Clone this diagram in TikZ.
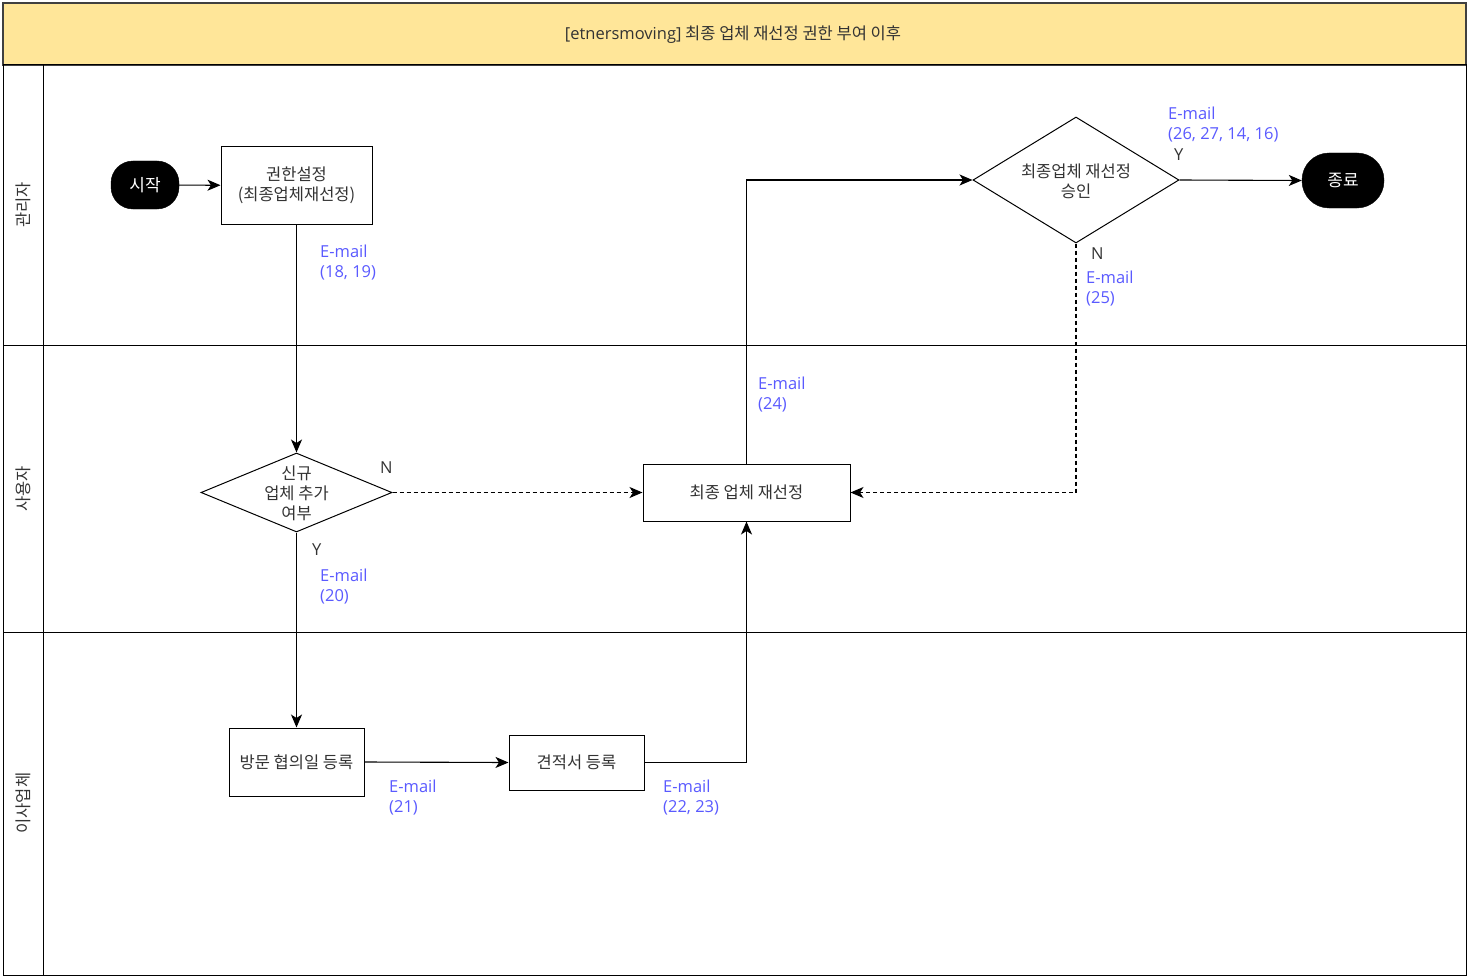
\documentclass[tikz,border=0pt]{standalone}
\usepackage{fontspec}
\setmainfont{Noto Sans CJK KR}
\newfontfamily\latinf{Open Sans}
\usetikzlibrary{shapes.geometric,arrows.meta}
\definecolor{titlefill}{RGB}{255,230,153}
\definecolor{mailblue}{RGB}{90,90,255}
\definecolor{txtgray}{RGB}{51,51,51}
\tikzset{
  every node/.style={font=\fontsize{16.5}{20}\selectfont, text=txtgray},
  procbox/.style={draw=black, line width=1pt, fill=white, inner sep=0pt, align=center},
  term/.style={draw=black, fill=black, rounded corners=22pt, inner sep=0pt, text=white, font=\fontsize{17}{20}\selectfont},
  dia/.style={draw=black, line width=1pt, fill=white, diamond, inner sep=0pt},
  lbl/.style={anchor=north west, align=left, inner sep=0pt, font=\latinf\fontsize{16.5}{20}\selectfont},
  mail/.style={lbl, text=mailblue},
  flow/.style={line width=1.1pt, -{Stealth[length=13pt,width=11pt,inset=3.5pt]}},
  dflow/.style={flow, dash pattern=on 4pt off 3pt},
  lane/.style={draw=black, line width=1pt}
}
\begin{document}
\begin{tikzpicture}[x=1pt,y=-1pt]
\useasboundingbox (0,0) rectangle (1470,979);
% frame and lanes
\fill[white] (0,0) rectangle (1470,979);
\filldraw[fill=titlefill, draw=black!75, line width=1.2pt] (3,3) rectangle (1466,65);
\node (title) at (733,35) {{\latinf [etnersmoving]} 최종 업체 재선정 권한 부여 이후};
\draw[lane] (3,65) rectangle (1466,975);
\draw[lane] (43,65) -- (43,975);
\draw[lane] (3,345) -- (1466,345);
\draw[lane] (3,632) -- (1466,632);
\node[rotate=90] (l1) at (23,205) {관리자};
\node[rotate=90] (l2) at (23,489) {사용자};
\node[rotate=90] (l3) at (23,803) {이사업체};
% nodes
\node[term, minimum width=68pt, minimum height=48pt] (start) at (145,185) {시작};
\node[procbox, minimum width=151pt, minimum height=77pt] (auth) at (296.5,185.5) {권한설정\\(최종업체재선정)};
\node[dia, minimum width=191pt, minimum height=79pt] (d1) at (296.5,492.5) {};
\node[align=center, inner sep=0pt] (d1t) at (296.5,493) {신규\\업체 추가\\여부};
\node[procbox, minimum width=207pt, minimum height=57pt] (resel) at (746.5,492.5) {최종 업체 재선정};
\node[procbox, minimum width=135pt, minimum height=68pt] (visit) at (296.5,762) {방문 협의일 등록};
\node[procbox, minimum width=135pt, minimum height=55pt] (quote) at (576.5,762.5) {견적서 등록};
\node[dia, minimum width=206pt, minimum height=126pt] (d2) at (1076,180) {};
\node[align=center, inner sep=0pt] (d2t) at (1076,181) {최종업체 재선정\\승인};
\node[term, minimum width=82pt, minimum height=55pt, rounded corners=27pt] (end) at (1343,180.5) {종료};
% connectors
\draw[flow] (start) -- (auth);
\draw[flow] (auth.south) -- (d1.north);
\draw[dflow] (d1.east) -- (resel.west);
\draw[flow] (d1.south) -- (visit.north);
\draw[flow] (visit.east) -- (quote.west);
\draw[flow] (quote.east) -| (resel.south);
\draw[flow] (resel.north) |- (d2.west);
\draw[flow] (d2.east) -- (end.west);
\draw[dflow] (d2.south) |- (resel.east);
% labels
\node[mail] (m1) at (320,245) {E-mail\\(18, 19)};
\node[lbl] (n1) at (380,462) {N};
\node[lbl] (y1) at (312,544) {Y};
\node[mail] (m2) at (320,569) {E-mail\\(20)};
\node[mail] (m3) at (389,780) {E-mail\\(21)};
\node[mail] (m4) at (663,780) {E-mail\\(22, 23)};
\node[mail] (m5) at (758,377) {E-mail\\(24)};
\node[mail] (m6) at (1168,107) {E-mail\\(26, 27, 14, 16)};
\node[lbl] (y2) at (1174,149) {Y};
\node[lbl] (n2) at (1091,248) {N};
\node[mail] (m7) at (1086,271) {E-mail\\(25)};
\end{tikzpicture}
\end{document}
